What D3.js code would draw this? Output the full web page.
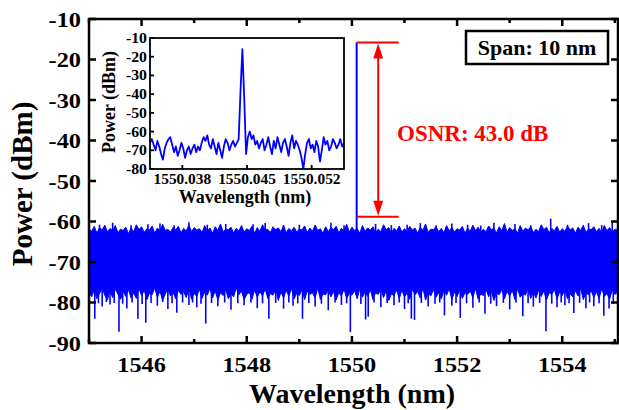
<!DOCTYPE html>
<html><head><meta charset="utf-8">
<script src="https://cdn.jsdelivr.net/npm/d3@7"></script>
<style>
body{margin:0;background:#fff}
svg{display:block}
text{font-family:"Liberation Serif","Times New Roman",serif;font-weight:bold;fill:#000}
</style>
</head><body>
<svg id="c" width="619" height="410"></svg>
<script>
// ---------- data ----------
const xTicks = [1546, 1548, 1550, 1552, 1554];
const xMinorTicks = [1545, 1547, 1549, 1551, 1553, 1555];
const yTicks = [-90, -80, -70, -60, -50, -40, -30, -20, -10];

const noiseStart = 1545, noiseStep = 0.05;
const noiseTop = [
-61.8,-62.4,-61.2,-62.9,-61.5,-62.1,-60.9,-62.6,-61.7,-62.3,-61.0,-62.8,-61.9,-62.2,-61.4,-63.0,-61.6,-62.5,-60.8,-62.0,
-61.3,-62.7,-61.8,-62.1,-61.1,-62.9,-61.6,-62.4,-60.7,-62.2,-61.9,-62.6,-61.4,-62.0,-61.2,-62.8,-61.7,-62.3,-60.9,-62.5,
-61.5,-62.1,-61.8,-62.7,-61.0,-62.4,-61.6,-62.9,-61.3,-62.2,-60.6,-62.5,-61.9,-62.0,-61.4,-62.8,-61.7,-62.3,-61.1,-62.6,
-61.8,-62.2,-61.2,-62.9,-61.5,-62.4,-60.8,-62.1,-61.9,-62.7,-61.3,-62.0,-61.6,-62.5,-61.0,-62.8,-61.7,-62.3,-61.4,-62.6,
-61.9,-62.1,-61.1,-62.7,-61.6,-62.4,-60.9,-62.2,-61.8,-62.9,-61.3,-62.5,-61.5,-62.0,-61.2,-62.8,-61.7,-62.3,-60.7,-62.6,
-61.4,-62.2,-61.8,-62.9,-61.0,-62.4,-61.6,-62.1,-61.3,-62.7,-61.9,-62.5,-60.8,-62.0,-61.5,-62.8,-61.7,-62.3,-61.1,-62.6,
-61.8,-62.4,-61.2,-62.1,-61.6,-62.9,-61.4,-62.2,-60.6,-62.7,-61.9,-62.0,-61.3,-62.5,-61.7,-62.8,-61.0,-62.3,-61.5,-62.6,
-61.8,-62.1,-61.2,-62.9,-61.6,-62.4,-60.9,-62.2,-61.4,-62.7,-61.9,-62.5,-61.1,-62.0,-61.7,-62.8,-61.3,-62.3,-60.5,-62.6,
-61.5,-62.2,-61.8,-62.9,-61.0,-62.4,-61.6,-62.1,-61.3,-62.7,-61.9,-62.5,-60.8,-62.0,-61.4,-62.8,-61.7,-62.3,-61.2,-62.6,
-61.8,-62.4,-61.1,-62.1,-61.6,-62.9,-61.4,-62.2,-60.9,-62.7,-61.9,-62.0,-61.3,-62.5,-61.7,-62.8,-61.0,-62.3,-61.5,-62.6,
-61.9, -62.0
];
const noiseBottom = [
-77.4,-78.6,-76.9,-79.1,-77.8,-76.5,-78.2,-79.4,-77.1,-78.8,-76.7,-77.9,-79.2,-77.3,-78.5,-76.8,-78.9,-77.6,-79.0,-76.6,
-78.3,-77.0,-79.3,-77.7,-78.1,-76.4,-78.7,-77.2,-79.5,-77.9,-76.8,-78.4,-77.5,-79.1,-76.9,-78.0,-77.3,-78.8,-76.6,-79.2,
-77.8,-78.5,-76.7,-79.0,-77.4,-78.2,-76.5,-78.9,-77.1,-79.4,-77.6,-78.3,-76.8,-79.1,-77.9,-78.6,-76.4,-78.1,-77.2,-79.3,
-78.0,-77.5,-79.2,-76.9,-78.7,-77.3,-78.4,-76.6,-79.0,-77.8,-78.2,-76.7,-79.5,-77.4,-78.8,-77.0,-78.5,-76.5,-79.1,-77.7,
-78.3,-76.8,-79.3,-77.2,-78.0,-77.6,-78.9,-76.4,-79.2,-77.9,-78.1,-76.9,-78.6,-77.3,-79.4,-77.5,-78.4,-76.7,-79.0,-77.8,
-78.2,-77.1,-79.1,-76.6,-78.7,-77.4,-78.5,-76.8,-79.3,-77.6,-78.0,-76.5,-78.8,-77.2,-79.5,-77.9,-78.3,-76.9,-79.0,-77.0,
-78.6,-77.7,-79.2,-76.7,-78.1,-77.3,-78.9,-76.4,-79.4,-77.8,-78.4,-76.8,-78.7,-77.5,-79.1,-77.0,-78.2,-76.6,-79.3,-77.4,
-78.5,-76.9,-79.0,-77.6,-78.0,-77.2,-78.8,-76.5,-79.2,-77.9,-78.3,-76.7,-78.6,-77.1,-79.5,-77.7,-78.1,-76.8,-79.1,-77.3,
-78.4,-77.0,-79.3,-76.6,-78.7,-77.8,-78.2,-76.4,-79.0,-77.5,-78.9,-76.9,-78.5,-77.2,-79.4,-77.6,-78.0,-76.7,-79.2,-77.4,
-78.3,-76.8,-79.1,-77.9,-78.6,-77.1,-78.4,-76.5,-79.3,-77.7,-78.1,-77.0,-78.8,-77.3,-79.0,-76.6,-78.5,-77.8,-79.2,-76.9,
-78.0, -77.5
];
// noise dips below the dense band: [wavelength, power]
const noiseDips = [
[1545.11,-84],[1545.18,-80.2],[1545.25,-81],[1545.33,-79.9],[1545.40,-80.5],[1545.48,-80.1],[1545.57,-87.2],[1545.64,-80.3],
[1545.72,-81.5],[1545.82,-80.0],[1545.93,-84],[1546.01,-80.4],[1546.08,-85],[1546.18,-80.1],[1546.30,-80.8],[1546.40,-79.9],
[1546.50,-81.6],[1546.58,-80.2],[1546.67,-82.5],[1546.78,-80.0],[1546.90,-80.6],[1546.97,-80.0],[1547.05,-81.2],[1547.13,-80.3],
[1547.22,-85.2],[1547.33,-80.1],[1547.45,-80.9],[1547.58,-80.0],[1547.70,-81.8],[1547.83,-80.2],[1547.95,-80.7],[1548.08,-80.0],
[1548.20,-81.4],[1548.30,-80.2],[1548.42,-84],[1548.55,-80.1],[1548.70,-81.5],[1548.80,-80.0],[1548.88,-80.8],[1548.97,-80.2],
[1549.06,-84],[1549.18,-80.1],[1549.30,-81],[1549.42,-80.3],[1549.55,-81.9],[1549.68,-80.0],[1549.80,-80.6],[1549.90,-80.2],
[1549.97,-87.3],[1550.17,-80.4],[1550.26,-84.2],[1550.31,-83.5],[1550.42,-80.0],[1550.55,-81.2],[1550.67,-80.1],[1550.80,-80.7],
[1550.90,-80.0],[1551.00,-81.6],[1551.07,-80.2],[1551.13,-84],[1551.19,-84.3],[1551.32,-80.1],[1551.45,-81],[1551.58,-80.3],
[1551.67,-80.0],[1551.76,-83.2],[1551.90,-80.8],[1551.98,-80.1],[1552.06,-83.8],[1552.18,-80.2],[1552.30,-81.3],[1552.42,-80.0],
[1552.53,-82.8],[1552.64,-80.3],[1552.75,-80.9],[1552.88,-80.1],[1553.00,-81.7],[1553.12,-80.0],[1553.25,-83.4],[1553.35,-80.2],
[1553.45,-81],[1553.57,-80.1],[1553.69,-87.1],[1553.80,-80.3],[1553.90,-81.2],[1553.98,-80.0],[1554.05,-80.7],[1554.13,-80.2],
[1554.22,-82.6],[1554.33,-80.1],[1554.45,-81.4],[1554.52,-80.0],[1554.60,-80.9],[1554.70,-80.2],[1554.79,-83.3],[1554.89,-81.5],[1554.97,-80.3]
];
// small upward noise spikes above the dense band
const noiseSpikes = [
[1545.2,-60.8],[1545.45,-60.3],[1545.8,-60.9],[1546.12,-60.7],[1546.35,-60.5],[1546.62,-60.9],[1546.9,-60.2],
[1547.25,-60.8],[1547.6,-60.6],[1547.9,-61.0],[1548.12,-60.7],[1548.35,-60.4],[1548.7,-60.9],[1549.0,-60.8],
[1549.3,-61.0],[1549.6,-60.3],[1549.85,-60.9],[1550.45,-60.6],[1550.75,-60.9],[1551.05,-60.8],[1551.3,-60.4],
[1551.6,-60.9],[1551.9,-60.5],[1552.2,-60.8],[1552.45,-61.0],[1552.7,-60.3],[1553.1,-60.6],[1553.4,-60.9],
[1553.78,-59.3],[1554.1,-60.8],[1554.5,-60.4],[1554.75,-60.9],[1554.95,-60.2]
];
const signalWl = 1550.09, signalPeak = -15.8, osnrFloor = -58.8;
const osnrLabel = "OSNR: 43.0 dB";
const spanLabel = "Span: 10 nm";

const insetStart = 1550.0345, insetStep = 0.0002;
const insetPower = [
-66,-64,-67,-70,-65,-68,-72,-75,-69,-66,
-64,-63,-67,-71,-68,-73,-70,-66,-69,-74,
-70,-68,-72,-69,-67,-71,-68,-70,-66,-63,
-65,-62,-67,-69,-64,-68,-72,-66,-70,-74,
-68,-64,-66,-70,-67,-65,-68,-66,-64,-38,
-16,-42,-72,-63,-60,-64,-62,-67,-65,-69,
-66,-64,-70,-67,-63,-68,-72,-65,-69,-63,
-67,-71,-66,-64,-68,-73,-66,-62,-69,-65,
-67,-70,-74,-80,-72,-66,-64,-69,-67,-71,
-65,-68,-76,-70,-63,-67,-65,-70,-68,-64,
-66,-69,-67,-64,-68,-66
];
const insetXTicks = [1550.038, 1550.045, 1550.052];
const insetYTicks = [-80, -70, -60, -50, -40, -30, -20, -10];

// ---------- drawing ----------
const svg = d3.select("#c");
const blue = "#0000ff", red = "#ff0000";
const L = 89, R = 618, T = 19, B = 343;
const x = d3.scaleLinear().domain([1545, 1555.06]).range([L, R]);
const y = d3.scaleLinear().domain([-90, -10]).range([B, T]);

function txt(g, px, py, s, size, anchor, sx, rot) {
  return g.append("text")
    .attr("transform", `translate(${px},${py})` + (rot ? ` rotate(${rot})` : "") + ` scale(${sx},1)`)
    .attr("text-anchor", anchor).style("font-size", size + "px").text(s);
}

svg.append("defs").append("clipPath").attr("id", "clipMain")
  .append("rect").attr("x", L).attr("y", T).attr("width", R - L).attr("height", B - T);

const plot = svg.append("g").attr("clip-path", "url(#clipMain)");
const noiseIdx = d3.range(noiseTop.length);
const area = d3.area()
  .x(i => x(noiseStart + i * noiseStep))
  .y0(i => y(noiseBottom[i]))
  .y1(i => y(noiseTop[i]));
plot.append("path").attr("d", area(noiseIdx)).attr("fill", blue).attr("stroke", blue).attr("stroke-width", 1);

plot.selectAll(".dip").data(noiseDips).join("line")
  .attr("x1", d => x(d[0])).attr("x2", d => x(d[0]))
  .attr("y1", y(-76)).attr("y2", d => y(d[1]))
  .attr("stroke", blue).attr("stroke-width", 1.6);
plot.selectAll(".spk").data(noiseSpikes).join("line")
  .attr("x1", d => x(d[0])).attr("x2", d => x(d[0]))
  .attr("y1", y(-63)).attr("y2", d => y(d[1]))
  .attr("stroke", blue).attr("stroke-width", 1.6);
plot.append("line")
  .attr("x1", x(signalWl)).attr("x2", x(signalWl))
  .attr("y1", y(-70)).attr("y2", y(signalPeak))
  .attr("stroke", blue).attr("stroke-width", 2);

// OSNR marker
const mx1 = x(signalWl), mx2 = x(signalWl + 0.8), ax = x(signalWl + 0.41);
const yTop = y(signalPeak), yBot = y(osnrFloor);
svg.append("line").attr("x1", mx1).attr("x2", mx2).attr("y1", yTop).attr("y2", yTop).attr("stroke", red).attr("stroke-width", 2);
svg.append("line").attr("x1", mx1).attr("x2", mx2).attr("y1", yBot).attr("y2", yBot).attr("stroke", red).attr("stroke-width", 2);
svg.append("line").attr("x1", ax).attr("x2", ax).attr("y1", yTop + 8).attr("y2", yBot - 8).attr("stroke", red).attr("stroke-width", 2);
svg.append("path").attr("d", `M${ax},${yTop + 1}L${ax - 5},${yTop + 16}L${ax + 5},${yTop + 16}Z`).attr("fill", red);
svg.append("path").attr("d", `M${ax},${yBot - 1}L${ax - 5},${yBot - 16}L${ax + 5},${yBot - 16}Z`).attr("fill", red);
txt(svg, 397, 141, osnrLabel, 23, "start", 1.0).style("fill", red);

// frame + ticks
const axg = svg.append("g").attr("stroke", "#000").attr("stroke-width", 2.5);
axg.append("rect").attr("x", L).attr("y", T).attr("width", R - L).attr("height", B - T).attr("fill", "none");
xTicks.forEach(v => {
  axg.append("line").attr("x1", x(v)).attr("x2", x(v)).attr("y1", B).attr("y2", B - 7);
  axg.append("line").attr("x1", x(v)).attr("x2", x(v)).attr("y1", T).attr("y2", T + 7);
});
xMinorTicks.forEach(v => {
  axg.append("line").attr("x1", x(v)).attr("x2", x(v)).attr("y1", B).attr("y2", B - 4);
  axg.append("line").attr("x1", x(v)).attr("x2", x(v)).attr("y1", T).attr("y2", T + 4);
});
yTicks.forEach(v => {
  axg.append("line").attr("x1", L).attr("x2", L + 7).attr("y1", y(v)).attr("y2", y(v));
  axg.append("line").attr("x1", R).attr("x2", R - 7).attr("y1", y(v)).attr("y2", y(v));
});
xTicks.forEach(v => txt(svg, x(v), 372, String(v), 21.5, "middle", 1.13));
yTicks.forEach(v => txt(svg, 81, y(v) + 7.5, String(v), 21.5, "end", 1.13));
txt(svg, 352, 403, "Wavelength (nm)", 28, "middle", 1.0);
txt(svg, 32, 184, "Power (dBm)", 29, "middle", 1.0, -90);

// span box
svg.append("rect").attr("x", 466).attr("y", 31).attr("width", 142).attr("height", 33)
  .attr("fill", "#fff").attr("stroke", "#000").attr("stroke-width", 2.5);
txt(svg, 537, 55, spanLabel, 22, "middle", 1.0);

// ---------- inset ----------
const iL = 150, iR = 344, iT = 38, iB = 169;
const ix = d3.scaleLinear().domain([insetStart, insetStart + insetStep * (insetPower.length - 1)]).range([iL, iR]);
const iy = d3.scaleLinear().domain([-80, -10]).range([iB, iT]);
const inset = svg.append("g");
inset.append("rect").attr("x", iL).attr("y", iT).attr("width", iR - iL).attr("height", iB - iT).attr("fill", "#fff");
svg.append("defs").append("clipPath").attr("id", "clipInset")
  .append("rect").attr("x", iL).attr("y", iT).attr("width", iR - iL).attr("height", iB - iT);
inset.append("path")
  .attr("clip-path", "url(#clipInset)")
  .attr("d", d3.line().x((d, i) => ix(insetStart + i * insetStep)).y(d => iy(d))(insetPower))
  .attr("fill", "none").attr("stroke", blue).attr("stroke-width", 1.8).attr("stroke-linejoin", "round");
const ig = inset.append("g").attr("stroke", "#000").attr("stroke-width", 1.8);
ig.append("rect").attr("x", iL).attr("y", iT).attr("width", iR - iL).attr("height", iB - iT).attr("fill", "none");
insetYTicks.forEach(v => ig.append("line").attr("x1", iL).attr("x2", iL + 4).attr("y1", iy(v)).attr("y2", iy(v)));
insetXTicks.forEach(v => ig.append("line").attr("x1", ix(v)).attr("x2", ix(v)).attr("y1", iB).attr("y2", iB - 4));
insetYTicks.forEach(v => txt(inset, 147, iy(v) + 5, String(v), 14, "end", 1.13));
insetXTicks.forEach(v => txt(inset, ix(v), 184, v.toFixed(3), 14, "middle", 1.1));
txt(inset, 245, 203, "Wavelength (nm)", 18, "middle", 1.0);
txt(inset, 115, 102, "Power (dBm)", 18, "middle", 1.0, -90);
</script>
</body></html>
